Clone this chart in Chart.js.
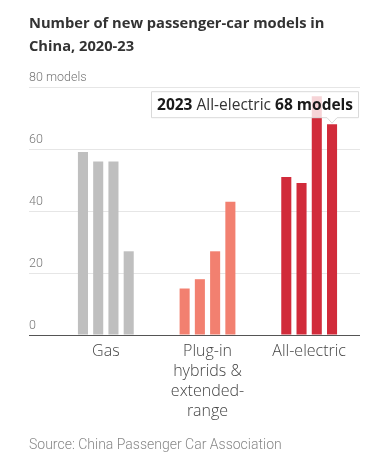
<!DOCTYPE html>
<html><head><meta charset="utf-8">
<script src="https://cdn.jsdelivr.net/npm/chart.js@4/dist/chart.umd.min.js"></script>
<style>
html,body{margin:0;padding:0;background:#fff;width:380px;height:466px;overflow:hidden}
#wrap{position:relative;width:380px;height:466px}
#title{position:absolute;left:29px;top:11px;font-family:"Open Sans";font-weight:bold;font-size:14.7px;color:#333;line-height:23px;width:345px;white-space:nowrap}
#source{position:absolute;left:29px;top:436px;font-family:Roboto;font-weight:300;font-size:14px;color:#888}
canvas{position:absolute;left:0;top:0}
</style></head>
<body><div id="wrap">
<canvas id="c" width="380" height="466"></canvas>
<div id="title">Number of new passenger-car models in<br>China, 2020-23</div>
<div id="source">Source: China Passenger Car Association</div>
</div>
<script>
const categories = ['Gas', ['Plug-in', 'hybrids &', 'extended-', 'range'], 'All-electric'];
const years = ['2020', '2021', '2022', '2023'];
const gas = [59, 56, 56, 27];
const plugIn = [15, 18, 27, 43];
const allElectric = [51, 49, 77, 68];
const yTicks = [0, 20, 40, 60, 80];
const categoryColors = ['#bfbfbf', '#f28070', '#d12b3a'];

const seriesByYear = years.map((y, i) => [gas[i], plugIn[i], allElectric[i]]);

const tooltipPlugin = {
  id: 'fixedTip',
  afterDatasetsDraw(chart) {
    const meta = chart.getDatasetMeta(3);
    const el = meta.data[2];
    const ctx = chart.ctx;
    const parts = [
      {t: '2023', b: true}, {t: ' All-electric ', b: false}, {t: '68 models', b: true}
    ];
    const fam = 'Open Sans';
    const fs = 15.5;
    let w = 0;
    parts.forEach(p => { ctx.font = (p.b ? 'bold ' : '') + fs + 'px "' + fam + '"'; p.w = ctx.measureText(p.t).width; w += p.w; });
    const padX = 6, h = 26;
    const right = el.x + 27;
    const left = right - w - padX * 2;
    const bottom = el.y - 7;
    const top = bottom - h;
    ctx.save();
    ctx.fillStyle = 'rgba(255,255,255,0.8)';
    ctx.strokeStyle = '#d9d9d9';
    ctx.lineWidth = 1;
    ctx.beginPath();
    ctx.moveTo(left + 0.5, top + 0.5);
    ctx.lineTo(right - 0.5, top + 0.5);
    ctx.lineTo(right - 0.5, bottom + 0.5);
    ctx.lineTo(el.x + 5, bottom + 0.5);
    ctx.lineTo(el.x, bottom + 6);
    ctx.lineTo(el.x - 5, bottom + 0.5);
    ctx.lineTo(left + 0.5, bottom + 0.5);
    ctx.closePath();
    ctx.fill();
    ctx.stroke();
    ctx.textBaseline = 'middle';
    let x = left + padX;
    parts.forEach(p => {
      ctx.font = (p.b ? 'bold ' : '') + fs + 'px "' + fam + '"';
      ctx.fillStyle = p.b ? '#1a1a1a' : '#333';
      ctx.fillText(p.t, x, top + h / 2 + 1);
      x += p.w;
    });
    ctx.restore();
  }
};

new Chart(document.getElementById('c'), {
  type: 'bar',
  data: {
    labels: categories,
    datasets: years.map((y, i) => ({
      label: y,
      data: seriesByYear[i],
      backgroundColor: categoryColors,
      borderWidth: 0,
      categoryPercentage: 0.6,
      barPercentage: 0.66
    }))
  },
  options: {
    responsive: false,
    animation: false,
    events: [],
    layout: {padding: {left: 29, right: 20, top: 87, bottom: 0}},
    plugins: {legend: {display: false}, tooltip: {enabled: false}, title: {display: false}},
    scales: {
      x: {
        offset: true,
        grid: {display: false, drawTicks: false},
        border: {display: false},
        ticks: {
          color: '#444',
          padding: 6,
          maxRotation: 0,
          autoSkip: false,
          font: {family: 'Open Sans', size: 16, weight: 300, lineHeight: 1.25}
        },
        afterFit(s) { s.height = 131; }
      },
      y: {
        min: 0, max: 80,
        afterBuildTicks(s) { s.ticks = yTicks.map(v => ({value: v})); },
        border: {display: false},
        grid: {
          color: c => (c.tick && c.tick.value === 0) ? '#555' : '#e6e6e6',
          tickColor: c => (c.tick && c.tick.value === 0) ? '#555' : '#e6e6e6',
          drawTicks: true,
          tickLength: 26,
          lineWidth: 1
        },
        ticks: {
          mirror: true,
          crossAlign: 'near',
          labelOffset: -9,
          padding: -26,
          color: '#777',
          font: {family: 'Roboto', size: 12.5, weight: 300},
          callback: v => v === 80 ? '80 models' : String(v)
        },
        afterFit(s) { s.width = 26; }
      }
    }
  },
  plugins: [tooltipPlugin]
});
</script>
</body></html>
